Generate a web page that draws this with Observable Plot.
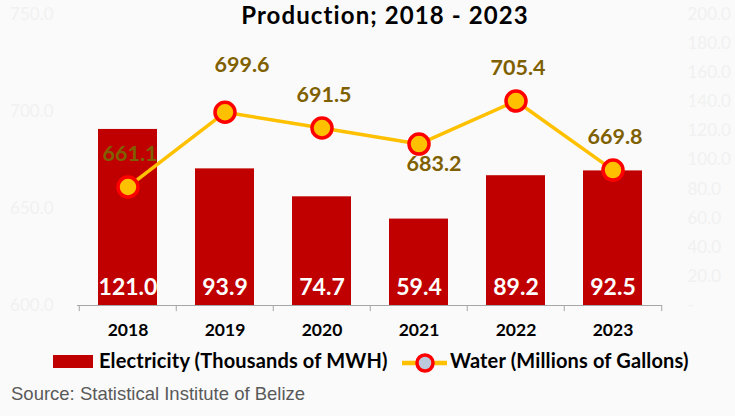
<!DOCTYPE html>
<html>
<head>
<meta charset="utf-8">
<script src="https://cdn.jsdelivr.net/npm/d3@7"></script>
<script src="https://cdn.jsdelivr.net/npm/@observablehq/plot@0.6"></script>
<style>
  html, body { margin: 0; padding: 0; background: #fafafa; }
  #wrap { position: relative; width: 735px; height: 416px; overflow: hidden; font-family: Lato, "Open Sans", sans-serif; }
  #wrap svg.plot { position: absolute; left: 0; top: 0; background: transparent; }
  .abs { position: absolute; white-space: nowrap; }
  #title { left: 385px; top: 0px; transform: translateX(-50%); font-size: 24px; font-weight: bold; color: #000; line-height: 29px; letter-spacing: 1.1px; }
  .legtext { font-size: 20px; font-weight: bold; color: #000; line-height: 20px; top: 350px; letter-spacing: 0.15px; }
  #source { left: 11px; top: 384px; font-family: "Liberation Sans", Arial, sans-serif; font-size: 18.5px; color: #595959; line-height: 20px; }
</style>
</head>
<body>
<div id="wrap">
  <div id="title" class="abs">Production; 2018 - 2023</div>
  <div class="abs" style="left:53px; top:355px; width:40px; height:13px; background:#C00000;"></div>
  <div class="abs legtext" style="left:99px;">Electricity (Thousands of MWH)</div>
  <svg class="abs" style="left:401px; top:351px;" width="48" height="24">
    <line x1="1" y1="12" x2="46" y2="12" stroke="#FFC000" stroke-width="4.5"></line>
    <circle cx="24" cy="12" r="8" fill="#bcc8dc" stroke="#FF0000" stroke-width="3.5"></circle>
  </svg>
  <div class="abs legtext" style="left:450px;">Water (Millions of Gallons)</div>
  <div id="source" class="abs">Source: Statistical Institute of Belize</div>
</div>
<script>
// ---- data ----
const years = ["2018", "2019", "2020", "2021", "2022", "2023"];
const electricity = [121.0, 93.9, 74.7, 59.4, 89.2, 92.5];   // Thousands of MWH (right axis)
const water = [661.1, 699.6, 691.5, 683.2, 705.4, 669.8];     // Millions of Gallons (left axis)
const leftTicks = [600, 650, 700, 750];
const rightTicks = [0, 20, 40, 60, 80, 100, 120, 140, 160, 180, 200];

// ---- build table ----
const rows = years.map((y, i) => ({year: y, elec: electricity[i], water: water[i]}));

// left axis (600-750) mapped onto the shared 0-200 scale
const toShared = v => (v - 600) * 200 / 150;
const fromShared = d => 600 + d * 150 / 200;

// label placement (style)
const upLabels = ["2018", "2020", "2022", "2023"];
const W = 735, H = 416, mL = 77, mR = 73, mT = 14, mB = 111;
const bw = (W - mL - mR) / years.length;
const font = "Lato, 'Open Sans', sans-serif";
const axisGrey = "#f1f1f1";
const labelStyle = {fill: "#7F6000", fontWeight: "bold", fontSize: 21.5};

const chart = Plot.plot({
  width: W, height: H,
  marginTop: mT, marginBottom: mB, marginLeft: mL, marginRight: mR,
  style: {background: "transparent", fontFamily: font, overflow: "visible"},
  x: {type: "band", domain: years, padding: 0},
  y: {domain: [0, 200]},
  marks: [
    Plot.axisY({anchor: "left", ticks: leftTicks.map(toShared), tickFormat: d => fromShared(d).toFixed(1),
      tickSize: 0, tickPadding: 24, fontSize: 17, fill: axisGrey, label: null}),
    Plot.axisY({anchor: "right", ticks: rightTicks, tickFormat: d => d === 0 ? "-" : d.toFixed(1),
      tickSize: 0, tickPadding: 25, fontSize: 17, fill: axisGrey, label: null}),
    Plot.barY(rows, {x: "year", y: "elec", fill: "#C00000", insetLeft: 19, insetRight: 19}),
    Plot.ruleY([0], {stroke: "#a6a6a6", strokeWidth: 1}),
    Plot.ruleX(rows, {x: "year", dx: -bw / 2, y1: 0, y2: -4.2, stroke: "#a6a6a6"}),
    Plot.ruleX(rows.slice(-1), {x: "year", dx: bw / 2, y1: 0, y2: -4.2, stroke: "#a6a6a6"}),
    Plot.text(rows, {x: "year", y: 0, dy: -18, text: d => d.elec.toFixed(1), fill: "white",
      fontWeight: "bold", fontSize: 23}),
    Plot.line(rows, {x: "year", y: d => toShared(d.water), stroke: "#FFC000", strokeWidth: 3.5}),
    Plot.dot(rows, {x: "year", y: d => toShared(d.water), r: 10, fill: "#FFC000", stroke: "#FF0000", strokeWidth: 3.5}),
    Plot.text(rows.filter(d => upLabels.includes(d.year)), {x: "year", y: d => toShared(d.water), dx: 2, dy: -33,
      text: d => d.water.toFixed(1), ...labelStyle}),
    Plot.text(rows.filter(d => d.year === "2019"), {x: "year", y: d => toShared(d.water), dx: 17, dy: -47,
      text: d => d.water.toFixed(1), ...labelStyle}),
    Plot.text(rows.filter(d => d.year === "2021"), {x: "year", y: d => toShared(d.water), dx: 15, dy: 20,
      text: d => d.water.toFixed(1), ...labelStyle}),
    Plot.axisX({tickSize: 0, tickPadding: 18, fontSize: 17.5, fontWeight: "bold", fill: "#000", label: null})
  ]
});
chart.classList.add("plot");
document.getElementById("wrap").appendChild(chart);
</script>
</body>
</html>
